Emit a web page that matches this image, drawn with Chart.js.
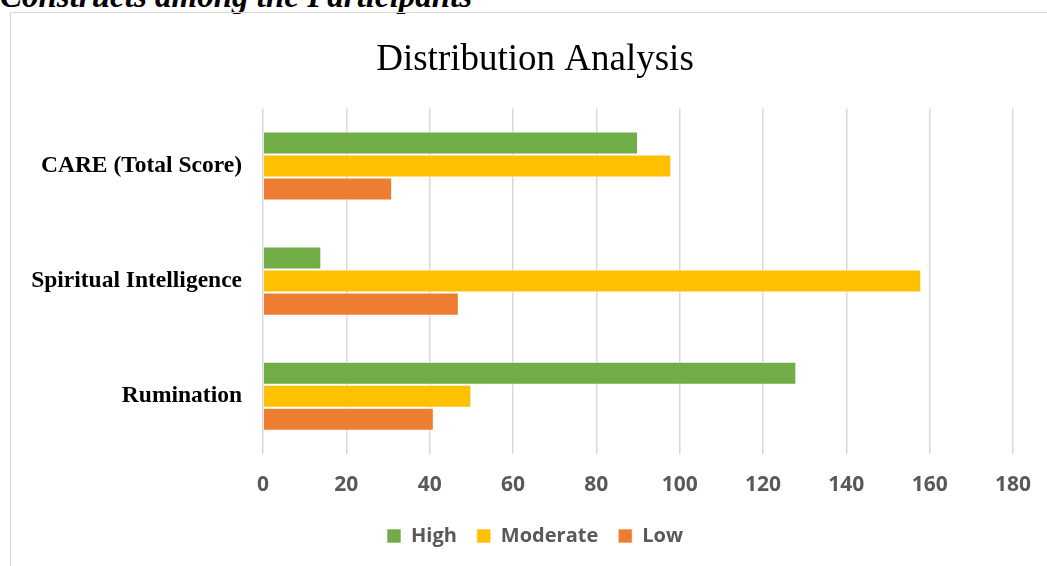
<!DOCTYPE html>
<html lang="en">
<head>
    <meta charset="UTF-8">
    <title>Distribution Analysis</title>
    <script src="https://cdn.jsdelivr.net/npm/chart.js"></script>
    <style>
        body { margin: 0; background: #fff; overflow: hidden; }
        .caption {
            position: absolute; left: 0; top: -22px;
            font: italic bold 33px "Liberation Serif", serif; color: #000;
            white-space: nowrap;
        }
        .frame {
            position: absolute; left: 10px; top: 12px; width: 1060px; height: 570px;
            border: 1px solid #d9d9d9;
        }
        .chart-box { position: absolute; left: 0; top: 0; width: 1048px; height: 553px; }
    </style>
</head>
<body>
    <div class="caption">Constructs among the Participants</div>
    <div class="frame">
        <div class="chart-box"><canvas id="distChart"></canvas></div>
    </div>
    <script>
        // data
        const categories = ['CARE (Total Score)', 'Spiritual Intelligence', 'Rumination'];
        const highValues = [90, 14, 128];
        const moderateValues = [98, 158, 50];
        const lowValues = [31, 47, 41];

        const ctx = document.getElementById('distChart').getContext('2d');
        const chart = new Chart(ctx, {
            type: 'bar',
            data: {
                labels: categories,
                datasets: [
                    { label: 'High', data: highValues, backgroundColor: '#70ad47' },
                    { label: 'Moderate', data: moderateValues, backgroundColor: '#ffc000' },
                    { label: 'Low', data: lowValues, backgroundColor: '#ed7d31' }
                ]
            },
            options: {
                indexAxis: 'y',
                responsive: true,
                maintainAspectRatio: false,
                animation: false,
                datasets: { bar: { categoryPercentage: 0.6, barPercentage: 1.0, borderWidth: 1, borderColor: 'rgba(255,255,255,0.6)' } },
                layout: { padding: { left: 0, right: 0, top: 10, bottom: 10 } },
                scales: {
                    x: {
                        min: 0, max: 180,
                        ticks: { stepSize: 20, color: '#595959', padding: 19,
                                 font: { family: '"Open Sans", sans-serif', size: 21, weight: 'bold' } },
                        grid: { color: '#d9d9d9', lineWidth: 1.5, drawTicks: false },
                        border: { display: false },
                        afterFit: function(scale) { scale.height = scale.height - 11; }
                    },
                    y: {
                        ticks: { color: '#000', padding: 21,
                                 font: { family: '"Liberation Serif", serif', size: 23.5, weight: 'bold' } },
                        grid: { display: false, drawTicks: false },
                        border: { display: false },
                        afterFit: function(scale) { scale.width = 252; }
                    },
                    // empty axis on the right, only keeps space so the title stays centred
                    spacer: {
                        type: 'category', position: 'right', axis: 'y',
                        ticks: { display: false },
                        grid: { display: false, drawTicks: false },
                        border: { display: false },
                        afterFit: function(scale) { scale.width = 46; }
                    }
                },
                plugins: {
                    title: {
                        display: true, text: 'Distribution Analysis', color: '#000',
                        font: { family: '"Liberation Serif", serif', size: 37, weight: 'normal' },
                        padding: { top: 15, bottom: 26 }
                    },
                    legend: {
                        position: 'bottom',
                        labels: { boxWidth: 14, boxHeight: 14, padding: 20, color: '#595959',
                                  font: { family: '"Open Sans", sans-serif', size: 20, weight: 'bold' } }
                    },
                    tooltip: { enabled: false }
                }
            }
        });
    </script>
</body>
</html>
